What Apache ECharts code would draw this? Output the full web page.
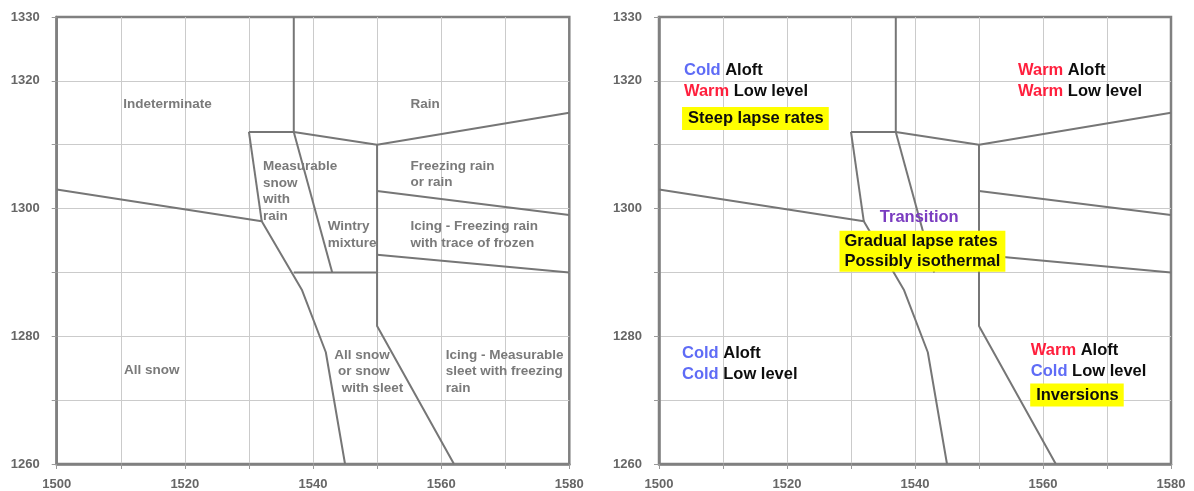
<!DOCTYPE html>
<html><head><meta charset="utf-8">
<script src="https://cdn.jsdelivr.net/npm/echarts@6/dist/echarts.min.js"></script>
<style>html,body{margin:0;padding:0;background:#fff}#c{width:1194px;height:491px}</style>
</head><body><div id="c"></div>
<script>
// ---- axis ranges & tick labels ----
const xMin = 1500, xMax = 1580, yMin = 1260, yMax = 1330;
const xTickLabels = [1500, 1520, 1540, 1560, 1580];
const yTickLabels = [1260, 1280, 1300, 1320, 1330];

// ---- boundary lines (data units) ----
const topDivider = [[1537, 1330], [1537, 1312]];
const rainBoundary = [[1530, 1312], [1537, 1312], [1550, 1310], [1580, 1315]];
const snowBoundary = [[1500, 1303], [1532, 1298], [1538.3, 1287.2], [1542, 1277.5], [1545, 1260]];
const measurableLeft = [[1530, 1312], [1532, 1298]];
const wintryLeft = [[1537, 1312], [1543, 1290]];
const wintryBottom = [[1537, 1290], [1550, 1290]];
const icingDivider = [[1550, 1310], [1550, 1281.6], [1562, 1260]];
const freezingRainBottom = [[1550, 1302.75], [1580, 1299]];
const icingBottom = [[1550, 1292.75], [1580, 1290]];

// ---- region names (left panel) ----
const leftLabels = [
  [1510.4, 1316.3, 'Indeterminate'],
  [1555.2, 1316.3, 'Rain'],
  [1532.2, 1302.7, 'Measurable\nsnow\nwith\nrain'],
  [1555.2, 1305.4, 'Freezing rain\nor rain'],
  [1542.3, 1295.9, 'Wintry\nmixture'],
  [1555.2, 1295.9, 'Icing - Freezing rain\nwith trace of frozen'],
  [1510.5, 1274.6, 'All snow'],
  [1543.3, 1274.5, 'All snow\n or snow\n  with sleet'],
  [1560.7, 1274.5, 'Icing - Measurable\nsleet with freezing\nrain']
];

// ---- regime notes (right panel) ----
const rightLabels = [
  [1503.9, 1321.6, '{c|Cold} {k|Aloft}'],
  [1503.9, 1318.3, '{w|Warm} {k|Low level}'],
  [1556.1, 1321.6, '{w|Warm} {k|Aloft}'],
  [1556.1, 1318.3, '{w|Warm} {k|Low level}'],
  [1534.5, 1298.6, '{p|Transition}'],
  [1503.6, 1277.3, '{c|Cold} {k|Aloft}'],
  [1503.6, 1274.0, '{c|Cold} {k|Low level}'],
  [1558.1, 1277.8, '{w|Warm} {k|Aloft}'],
  [1558.1, 1274.5, '{c|Cold} {k|Low level}']
];
const highlightLabels = [
  [1503.6, 1314.1, 'Steep lapse rates'],
  [1528.2, 1293.3, 'Gradual lapse rates\nPossibly isothermal'],
  [1558.0, 1270.8, 'Inversions']
];

const FONT = 'Arial, "Liberation Sans", sans-serif';
const chart = echarts.init(document.getElementById('c'), null, {renderer: 'canvas'});

function xAxis(gi) {
  return {
    gridIndex: gi, type: 'value', min: xMin, max: xMax, interval: 10,
    axisLine: {show: true, onZero: false, lineStyle: {color: '#808080', width: 2.5}},
    axisTick: {show: true, length: 5, lineStyle: {color: '#9a9a9a'}},
    axisLabel: {margin: 14, color: '#666', fontWeight: 'bold', fontSize: 13, fontFamily: FONT,
      formatter: v => xTickLabels.includes(v) ? String(v) : ''},
    splitLine: {show: true, showMinLine: false, showMaxLine: false, lineStyle: {color: '#cbcbcb', width: 1}}
  };
}
function yAxis(gi) {
  return {
    gridIndex: gi, type: 'value', min: yMin, max: yMax, interval: 10,
    axisLine: {show: true, onZero: false, lineStyle: {color: '#808080', width: 2.5}},
    axisTick: {show: true, length: 5, lineStyle: {color: '#9a9a9a'}},
    axisLabel: {margin: 17, color: '#666', fontWeight: 'bold', fontSize: 13, fontFamily: FONT,
      formatter: v => yTickLabels.includes(v) ? String(v) : ''},
    splitLine: {show: true, showMinLine: false, showMaxLine: false, lineStyle: {color: '#cbcbcb', width: 1}}
  };
}
function lineSeries(data, gi) {
  return {
    type: 'line', xAxisIndex: gi, yAxisIndex: gi, data: data, showSymbol: false, symbol: 'none',
    silent: true, z: 3, animation: false,
    lineStyle: {color: '#767676', width: 2}
  };
}
const leftBounds = [topDivider, rainBoundary, snowBoundary, measurableLeft, wintryLeft, wintryBottom, icingDivider, freezingRainBottom, icingBottom];
const rightBounds = [topDivider, rainBoundary, snowBoundary, measurableLeft, wintryLeft, icingDivider, freezingRainBottom, icingBottom];

const series = [];
leftBounds.forEach(d => series.push(lineSeries(d, 0)));
rightBounds.forEach(d => series.push(lineSeries(d, 1)));

const hidden = {color: 'rgba(0,0,0,0)', opacity: 1};
series.push({
  type: 'scatter', xAxisIndex: 0, yAxisIndex: 0, z: 5, silent: true, animation: false,
  symbolSize: 1, itemStyle: hidden,
  data: leftLabels.map(d => ({value: [d[0], d[1]], name: d[2]})),
  label: {show: true, position: 'inside', align: 'left', verticalAlign: 'middle',
    formatter: p => p.name, color: '#7a7a7a', fontWeight: 'bold', fontSize: 13.5,
    lineHeight: 16.4, fontFamily: FONT}
});
const rich = {
  c: {color: '#5f6cf6', fontWeight: 'bold', fontSize: 16.5, fontFamily: FONT},
  w: {color: '#ff1f3d', fontWeight: 'bold', fontSize: 16.5, fontFamily: FONT},
  k: {color: '#0d0d0d', fontWeight: 'bold', fontSize: 16.5, fontFamily: FONT},
  p: {color: '#7a3cc0', fontWeight: 'bold', fontSize: 16.5, fontFamily: FONT}
};
series.push({
  type: 'scatter', xAxisIndex: 1, yAxisIndex: 1, z: 5, silent: true, animation: false,
  symbolSize: 1, itemStyle: hidden,
  data: rightLabels.map(d => ({value: [d[0], d[1]], name: d[2]})),
  label: {show: true, position: 'inside', align: 'left', verticalAlign: 'middle',
    formatter: p => p.name, rich: rich, color: '#0d0d0d', fontWeight: 'bold', fontSize: 16.5, fontFamily: FONT}
});
series.push({
  type: 'scatter', xAxisIndex: 1, yAxisIndex: 1, z: 6, silent: true, animation: false,
  symbolSize: 1, itemStyle: hidden,
  data: highlightLabels.map(d => {
    const item = {value: [d[0], d[1]], name: d[2]};
    if (d[2].indexOf('\n') >= 0) item.label = {padding: [1, 5, 1, 5], lineHeight: 19.5};
    return item;
  }),
  label: {show: true, position: 'inside', align: 'left', verticalAlign: 'middle',
    formatter: p => p.name, color: '#0d0d0d', fontWeight: 'bold', fontSize: 16.5, fontFamily: FONT,
    backgroundColor: '#ffff00', padding: [3, 5, 3, 6], lineHeight: 17}
});

chart.setOption({
  animation: false,
  backgroundColor: '#fff',
  grid: [
    {left: 56.7, top: 17, width: 512.6, height: 448, show: true, borderColor: '#808080', borderWidth: 2.5, backgroundColor: 'transparent'},
    {left: 659, top: 17, width: 512, height: 448, show: true, borderColor: '#808080', borderWidth: 2.5, backgroundColor: 'transparent'}
  ],
  xAxis: [xAxis(0), xAxis(1)],
  yAxis: [yAxis(0), yAxis(1)],
  series: series
});
</script></body></html>
